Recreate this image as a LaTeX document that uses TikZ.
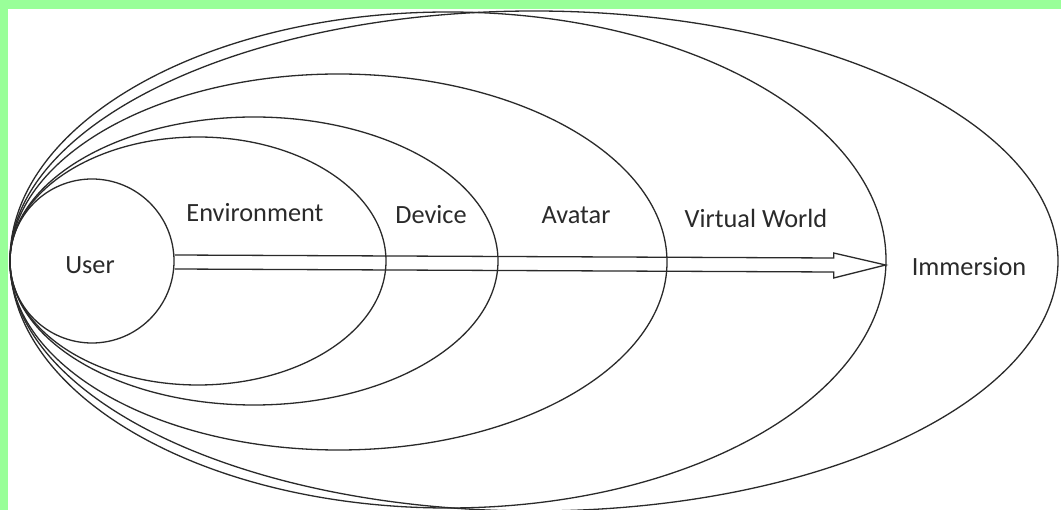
\documentclass[tikz,border=0pt]{standalone}
\usepackage{fontspec}
\setmainfont{Carlito}
\usetikzlibrary{calc,shapes.geometric}
\definecolor{frame}{HTML}{99FF99}
\definecolor{ink}{HTML}{2A2A2A}
\begin{document}
\begin{tikzpicture}[x=1pt,y=-1pt,
  ring/.style={draw=ink, line width=1.3pt, ellipse, inner sep=0pt},
  lbl/.style={text=ink, font=\fontsize{26.3}{29}\selectfont, inner sep=0pt},
  arrowbody/.style={draw=ink, line width=1.3pt, line join=miter}]
\useasboundingbox (0,0) rectangle (1061,510);
\fill[frame] (0,0) rectangle (1061,510);
\fill[white] (8,9) rectangle (1061,510);
\begin{scope}
\clip (8,9) rectangle (1061,510);
\node[ring, minimum width=1048pt, minimum height=500pt] (imm) at (534,261) {};
\node[ring, minimum width=876pt, minimum height=496pt] (vw) at (448,260) {};
\node[ring, minimum width=657pt, minimum height=376pt] (avatar) at (338.5,262) {};
\node[ring, minimum width=488pt, minimum height=288pt] (device) at (254,261) {};
\node[ring, minimum width=376pt, minimum height=248pt] (env) at (198,261) {};
\node[ring, circle, minimum size=164pt] (user) at (92,261) {};
\end{scope}
\coordinate (tail) at ($(user.east)+(0,1)$);
\coordinate (tip) at ($(vw.east)+(-1,5)$);
\draw[arrowbody] ($(tail)+(0,-7)$) -- ($(tip)+(-52,-7)$) -- ($(tip)+(-52,-12)$) -- (tip)
  -- ($(tip)+(-52,13)$) -- ($(tip)+(-52,7)$) -- ($(tail)+(0,7)$);
\node[lbl] (tuser) at (90,265) {User};
\node[lbl] (tenv) at (255,213) {Environment};
\node[lbl] (tdev) at (431,215) {Device};
\node[lbl] (tav) at (576,215) {Avatar};
\node[lbl] (tvw) at (756,218) {Virtual World};
\node[lbl] (timm) at (969,267) {Immersion};
\end{tikzpicture}
\end{document}
